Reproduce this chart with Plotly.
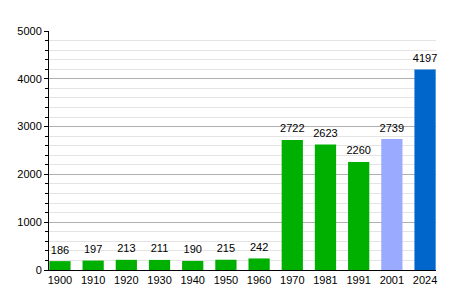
import plotly.graph_objects as go

years = ["1900", "1910", "1920", "1930", "1940", "1950", "1960", "1970", "1981", "1991", "2001", "2024"]
population = [186, 197, 213, 211, 190, 215, 242, 2722, 2623, 2260, 2739, 4197]
colors = ["#00b000"] * 10 + ["#99aaff", "#0066cc"]

fig = go.Figure()
fig.add_trace(go.Bar(x=years, y=population, marker_color=colors, marker_line_width=0))
fig.add_trace(go.Scatter(
    x=years, y=population, mode="markers+text", text=[str(v) for v in population],
    textposition="top center", cliponaxis=False, hoverinfo="skip",
    marker=dict(size=6, opacity=0),
    textfont=dict(family="Liberation Sans, Arial", size=11, color="black"),
))
fig.update_layout(
    width=464, height=300, margin=dict(l=49, r=28, t=31, b=30),
    paper_bgcolor="white", plot_bgcolor="white", showlegend=False,
    bargap=0.36,
    font=dict(family="Liberation Sans, Arial", size=11, color="black"),
    xaxis=dict(type="category", range=[-0.33, 11.33], showline=True, linecolor="black",
               linewidth=1, ticks="", showgrid=False, tickfont=dict(size=11)),
    yaxis=dict(range=[0, 5000], dtick=1000, showline=True, linecolor="black", linewidth=1,
               ticks="outside", ticklen=4, tickcolor="black", gridcolor="#b0b0b0",
               zeroline=False, tickfont=dict(size=11),
               minor=dict(dtick=200, ticks="outside", ticklen=3, tickcolor="black",
                          showgrid=True, gridcolor="#e4e4e4")),
)
fig.write_html("out.html")
